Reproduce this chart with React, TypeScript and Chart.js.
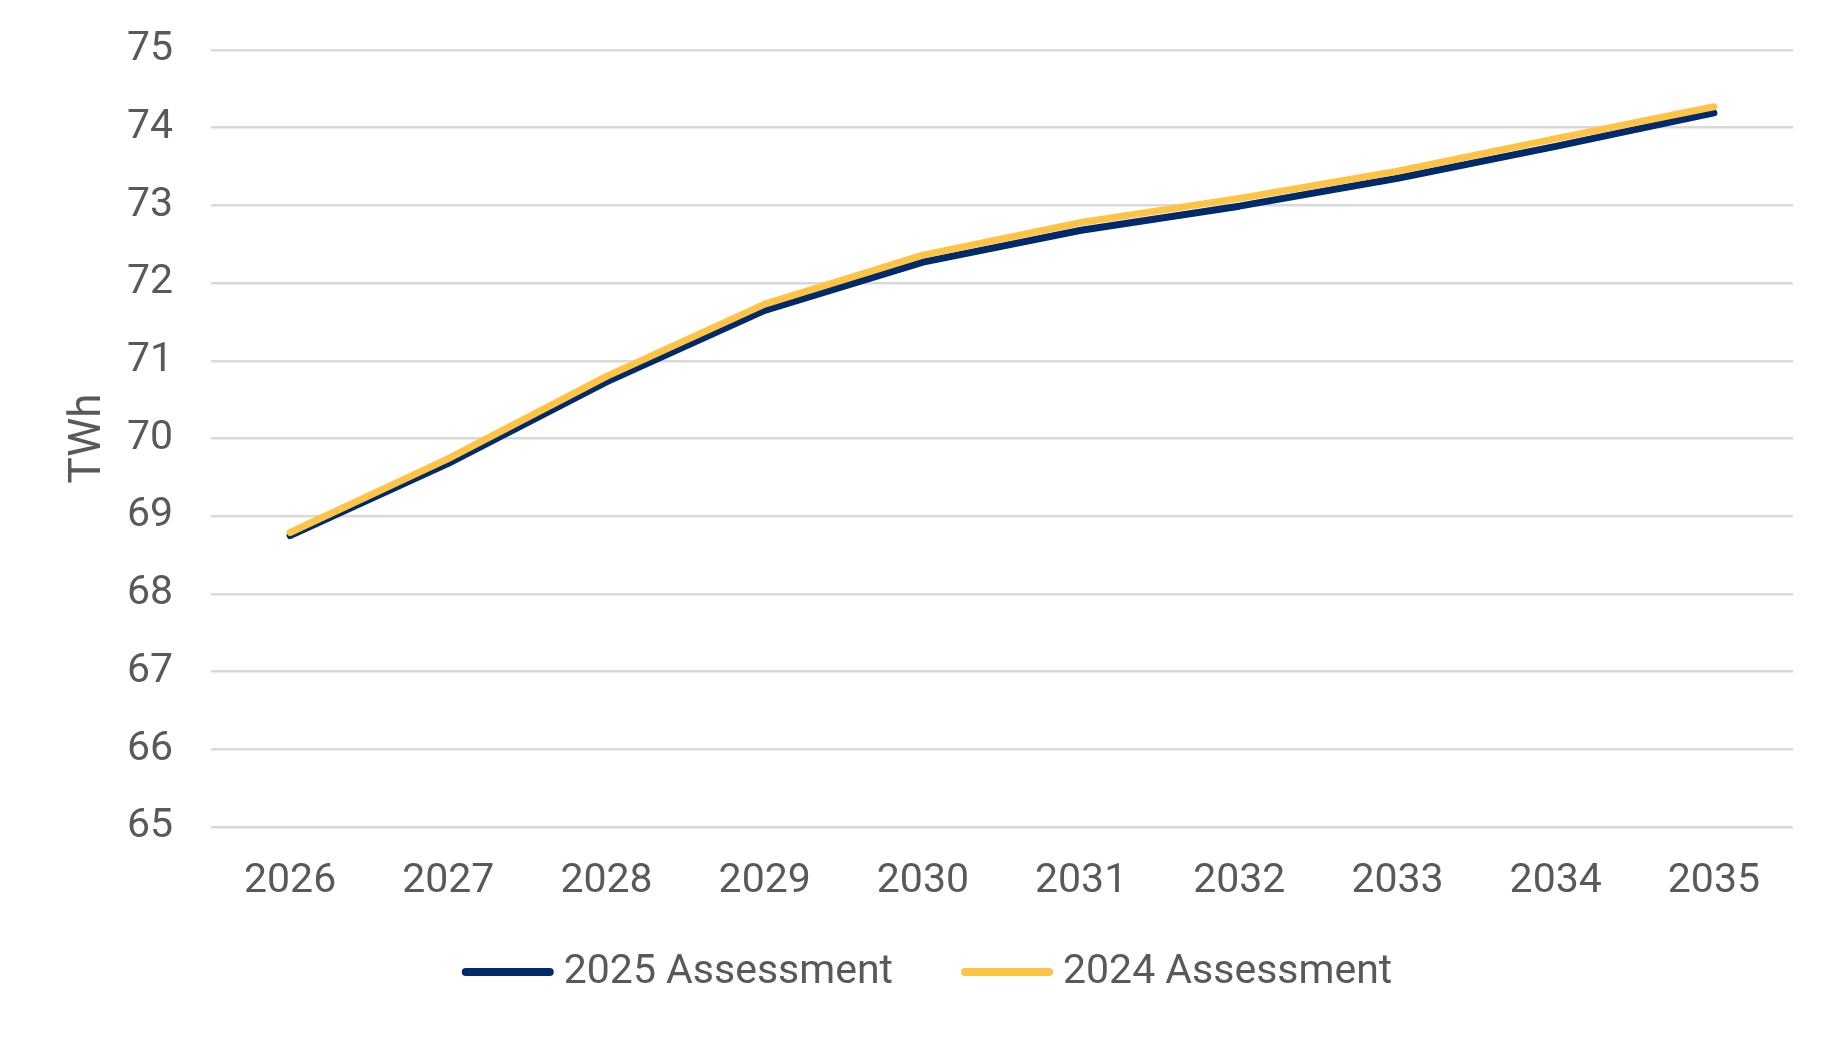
import React, { useEffect, useRef } from "react";
import { Chart, registerables } from "chart.js";

Chart.register(...registerables);

const years = ["2026", "2027", "2028", "2029", "2030", "2031", "2032", "2033", "2034", "2035"];
const assessment2025 = [68.75, 69.68, 70.73, 71.65, 72.27, 72.68, 72.99, 73.35, 73.76, 74.19];
const assessment2024 = [68.79, 69.74, 70.80, 71.73, 72.36, 72.78, 73.09, 73.44, 73.86, 74.27];
const seriesLabels = ["2025 Assessment", "2024 Assessment"];
const seriesColors = ["#002a6c", "#ffc445"];

const FONT = "Roboto, 'Noto Sans', sans-serif";
const TEXT = "#595959";

const legendPlugin = {
  id: "customLegend",
  afterDraw(chart: any) {
    const ctx = chart.ctx;
    const ds = chart.data.datasets;
    ctx.save();
    ctx.font = `41px ${FONT}`;
    const lineW = 92;
    const gapText = 10;
    const gapItems = 68;
    const widths = ds.map((d: any) => lineW + gapText + ctx.measureText(d.label).width);
    const total = widths.reduce((a: number, b: number) => a + b, 0) + gapItems * (ds.length - 1);
    let x = chart.width / 2 + 6 - total / 2;
    const y = 964;
    ds.forEach((d: any, i: number) => {
      ctx.strokeStyle = d.borderColor;
      ctx.lineWidth = 8;
      ctx.lineCap = "round";
      ctx.beginPath();
      ctx.moveTo(x + 4, y);
      ctx.lineTo(x + lineW - 4, y);
      ctx.stroke();
      ctx.fillStyle = TEXT;
      ctx.textBaseline = "middle";
      ctx.textAlign = "left";
      ctx.fillText(d.label, x + lineW + gapText, y + 1);
      x += widths[i] + gapItems;
    });
    ctx.restore();
  },
};

export default function App() {
  const ref = useRef<HTMLCanvasElement | null>(null);
  useEffect(() => {
    if (!ref.current) return;
    const chart = new Chart(ref.current, {
      type: "line",
      data: {
        labels: years,
        datasets: [
          {
            label: seriesLabels[0],
            data: assessment2025,
            borderColor: seriesColors[0],
            backgroundColor: seriesColors[0],
            borderWidth: 7,
            pointRadius: 0,
            borderCapStyle: "round",
            borderJoinStyle: "round",
            tension: 0,
            order: 2,
          },
          {
            label: seriesLabels[1],
            data: assessment2024,
            borderColor: seriesColors[1],
            backgroundColor: seriesColors[1],
            borderWidth: 7,
            pointRadius: 0,
            borderCapStyle: "round",
            borderJoinStyle: "round",
            tension: 0,
            order: 1,
          },
        ],
      },
      options: {
        animation: false,
        responsive: true,
        maintainAspectRatio: false,
        layout: { padding: { top: 42, right: 41, bottom: 103, left: 0 } },
        plugins: {
          legend: { display: false },
          tooltip: { enabled: false },
        },
        scales: {
          x: {
            offset: true,
            grid: { display: false, drawTicks: false },
            border: { display: false },
            ticks: {
              color: TEXT,
              font: { family: FONT, size: 41 },
              padding: 30,
              maxRotation: 0,
            },
            afterFit: (s: any) => {
              s.height = 100;
              s.paddingLeft = 0;
              s.paddingRight = 0;
            },
          },
          y: {
            min: 65,
            max: 75,
            grid: { color: "#d9d9d9", lineWidth: 2.5, drawTicks: false },
            border: { display: false },
            ticks: {
              stepSize: 1,
              color: TEXT,
              font: { family: FONT, size: 41 },
              padding: 38,
            },
            title: {
              display: true,
              text: "TWh",
              color: TEXT,
              font: { family: FONT, size: 44 },
              padding: { top: 55, bottom: 0 },
            },
            afterFit: (s: any) => {
              s.width = 203;
              s.paddingTop = 0;
              s.paddingBottom = 0;
            },
          },
        },
      },
      plugins: [legendPlugin],
    });
    return () => chart.destroy();
  }, []);
  return (
    <div style={{ width: 1826, height: 1022, position: "relative" }}>
      <canvas ref={ref} />
    </div>
  );
}
